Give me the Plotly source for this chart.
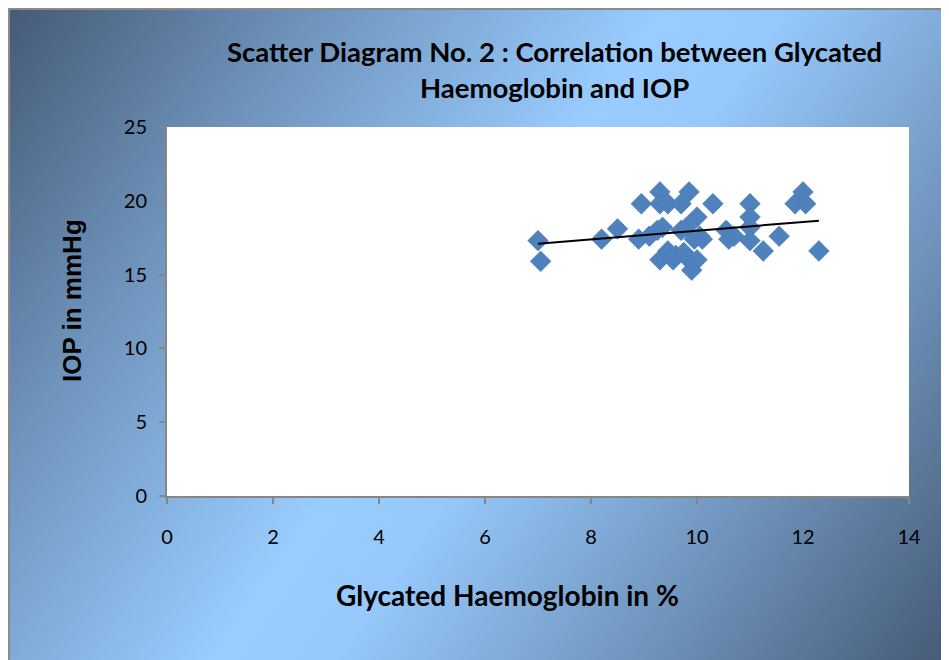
import base64
import numpy as np
import plotly.graph_objects as go

# Data
hba1c = [7.0, 7.05, 8.2, 8.5, 8.9, 8.95, 9.1, 9.25, 9.3, 9.3, 9.3, 9.35, 9.45, 9.45,
         9.55, 9.6, 9.7, 9.7, 9.75, 9.8, 9.85, 9.85, 9.9, 9.95, 10.0, 10.0, 10.05,
         10.1, 10.3, 10.55, 10.6, 10.7, 11.0, 11.0, 11.0, 11.0, 11.25, 11.55, 11.85,
         12.0, 12.05, 12.3]
iop = [17.3, 15.9, 17.4, 18.1, 17.4, 19.8, 17.6, 18.0, 20.6, 19.8, 16.0, 18.2, 19.8,
       16.6, 16.0, 16.3, 19.8, 18.0, 16.5, 18.2, 20.6, 16.0, 15.3, 17.4, 18.9, 16.0,
       17.6, 17.4, 19.8, 18.0, 17.4, 17.6, 19.8, 18.9, 18.2, 17.3, 16.6, 17.6, 19.8,
       20.6, 19.8, 16.6]
x_ticks = [0, 2, 4, 6, 8, 10, 12, 14]
y_ticks = [0, 5, 10, 15, 20, 25]

title_text = "Scatter Diagram No. 2 : Correlation between Glycated<br>Haemoglobin and IOP"
x_title = "Glycated Haemoglobin in %"
y_title = "IOP in mmHg"

# Linear trendline (least squares)
slope, intercept = np.polyfit(hba1c, iop, 1)
tx = np.array([min(hba1c), max(hba1c)])
ty = slope * tx + intercept

# figure sits at (8, 8) in the page because of the body margin
W, H = 941, 652
L, R, T, B = 159, 40, 119, 164
pw, ph = W - L - R, H - T - B
OFF = 8  # page -> figure offset

svg = f'''<svg xmlns="http://www.w3.org/2000/svg" width="{W}" height="{H}" viewBox="0 0 {W} {H}" preserveAspectRatio="none">
<defs><linearGradient id="g" x1="0" y1="0" x2="{W}" y2="{H}" gradientUnits="userSpaceOnUse">
<stop offset="0" stop-color="#455a76"/>
<stop offset="0.22" stop-color="#6f93bb"/>
<stop offset="0.47" stop-color="#99ccff"/>
<stop offset="0.56" stop-color="#96c8fb"/>
<stop offset="0.78" stop-color="#6f93bb"/>
<stop offset="1" stop-color="#455a76"/>
</linearGradient></defs>
<rect width="{W}" height="{H}" fill="url(#g)"/></svg>'''
src = "data:image/svg+xml;base64," + base64.b64encode(svg.encode()).decode()


def px2x(p):
    return (p - OFF - L) / pw


def py2y(p):
    return (H - B - (p - OFF)) / ph


fig = go.Figure()
fig.add_trace(go.Scatter(
    x=hba1c, y=iop, mode="markers",
    marker=dict(symbol="diamond", size=16, color="#4f81bd",
                line=dict(color="#4a7ab5", width=0.5)),
    showlegend=False, hoverinfo="x+y"))
fig.add_trace(go.Scatter(
    x=tx, y=ty, mode="lines", line=dict(color="black", width=2),
    showlegend=False, hoverinfo="skip"))

fig.update_layout(
    width=W, height=H,
    margin=dict(l=L, r=R, t=T, b=B),
    paper_bgcolor="white",
    plot_bgcolor="white",
    images=[dict(source=src, xref="paper", yref="paper",
                 x=-L / pw, y=1 + T / ph, sizex=W / pw, sizey=H / ph,
                 xanchor="left", yanchor="top", sizing="stretch", layer="below")],
    shapes=[
        dict(type="rect", xref="x domain", yref="y domain", x0=0, x1=1, y0=0, y1=1,
             fillcolor="white", line=dict(width=0), layer="below"),
        dict(type="line", xref="paper", yref="paper", x0=-L / pw, x1=1 + R / pw,
             y0=1 + (T - 1) / ph, y1=1 + (T - 1) / ph, line=dict(color="#8a8a8a", width=2)),
        dict(type="line", xref="paper", yref="paper", x0=-(L - 1) / pw, x1=-(L - 1) / pw,
             y0=1 + T / ph, y1=-B / ph, line=dict(color="#8a8a8a", width=2)),
    ],
    xaxis=dict(range=[0, 14], tickvals=x_ticks, showgrid=False, zeroline=False,
               showline=True, linecolor="#868686", linewidth=2,
               ticks="outside", ticklen=6, tickcolor="#868686", tickwidth=2,
               ticklabelstandoff=16,
               tickfont=dict(family="Lato", size=20, color="black")),
    yaxis=dict(range=[0, 25], tickvals=y_ticks, showgrid=False, zeroline=False,
               showline=True, linecolor="#868686", linewidth=2,
               ticks="outside", ticklen=6, tickcolor="#868686", tickwidth=2,
               ticklabelstandoff=8,
               tickfont=dict(family="Lato", size=20, color="black")),
    annotations=[
        dict(text=title_text, xref="paper", yref="paper", x=px2x(554), y=py2y(69),
             xanchor="center", yanchor="middle", showarrow=False,
             font=dict(family="Lato", size=27.5, color="black", weight="bold")),
        dict(text=x_title, xref="paper", yref="paper", x=px2x(507), y=py2y(595),
             xanchor="center", yanchor="middle", showarrow=False,
             font=dict(family="Lato", size=28, color="black", weight="bold")),
        dict(text=y_title, xref="paper", yref="paper", x=px2x(72), y=py2y(300),
             xanchor="center", yanchor="middle", showarrow=False, textangle=-90,
             font=dict(family="Liberation Sans", size=26, color="black", weight="bold")),
    ],
)

fig.write_html("out.html")
